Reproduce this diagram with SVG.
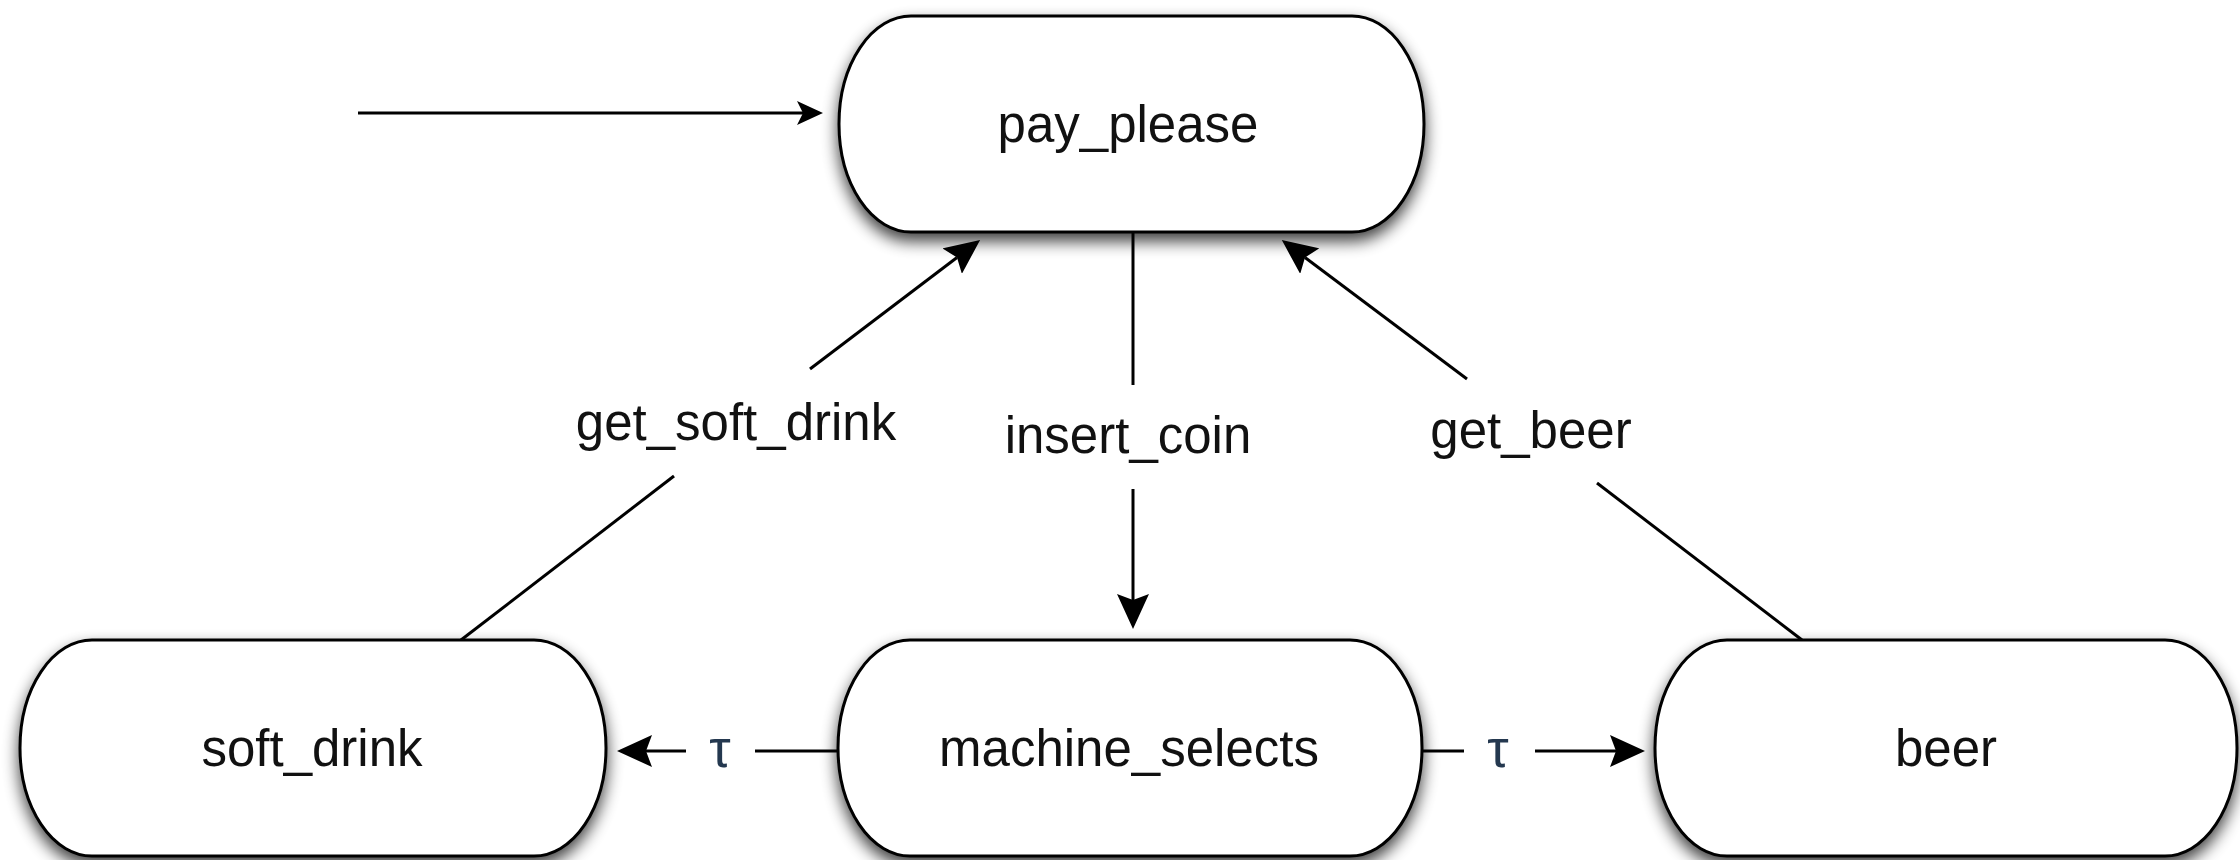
<svg xmlns="http://www.w3.org/2000/svg" width="2240" height="860" viewBox="0 0 2240 860">
  <defs>
    <filter id="shadow" x="-10%" y="-20%" width="120%" height="150%">
      <feGaussianBlur in="SourceAlpha" stdDeviation="8"/>
      <feOffset dx="0" dy="8" result="b"/>
      <feComponentTransfer in="b" result="s">
        <feFuncA type="linear" slope="0.75"/>
      </feComponentTransfer>
      <feMerge>
        <feMergeNode in="s"/>
        <feMergeNode in="SourceGraphic"/>
      </feMerge>
    </filter>
    <marker id="arrow" viewBox="0 -16 35 32" markerWidth="35" markerHeight="32" refX="6" refY="0" orient="auto" markerUnits="userSpaceOnUse">
      <path d="M0,-16 L35,0 L0,16 L6,0 Z" fill="#000"/>
    </marker>
    <marker id="initArrow" viewBox="0 -12 26 24" markerWidth="26" markerHeight="24" refX="6" refY="0" orient="auto" markerUnits="userSpaceOnUse">
      <path d="M0,-12 L26,0 L0,12 L6,0 Z" fill="#000"/>
    </marker>
  </defs>
  <style>
    .state { fill: #fff; stroke: #000; stroke-width: 3; filter: url(#shadow); }
    .label { font-family: "Liberation Sans", Arial, sans-serif; font-size: 51px; fill: #111; text-anchor: middle; }
    .tau { font-family: "Liberation Sans", "DejaVu Sans", sans-serif; font-size: 54px; fill: #24384f; text-anchor: middle; }
    .edge { stroke: #000; stroke-width: 3; fill: none; }
  </style>
  <rect width="2240" height="860" fill="#fff"/>

  <g id="connectors">
    <path class="edge" d="M358,113 L803,113" stroke-width="5" marker-end="url(#initArrow)"/>
    <path class="edge" d="M1133,233 L1133,385"/>
    <path class="edge" d="M1133,489 L1133,600" marker-end="url(#arrow)"/>
    <text class="label" x="1128" y="453">insert_coin</text>
    <path class="edge" d="M461,640 L674,476"/>
    <path class="edge" d="M810,369 L957,257.5" marker-end="url(#arrow)"/>
    <text class="label" x="736" y="440">get_soft_drink</text>
    <path class="edge" d="M1802,640 L1597,483"/>
    <path class="edge" d="M1467,379 L1305,257.5" marker-end="url(#arrow)"/>
    <text class="label" x="1531" y="448">get_beer</text>
    <path class="edge" d="M838,751 L755,751"/>
    <path class="edge" d="M686,751 L646,751" marker-end="url(#arrow)"/>
    <text class="tau" x="720" y="767">τ</text>
    <path class="edge" d="M1422,751 L1464,751"/>
    <path class="edge" d="M1535,751 L1616,751" marker-end="url(#arrow)"/>
    <text class="tau" x="1498" y="767">τ</text>
  </g>

  <g id="pay_please">
    <rect class="state" x="839" y="16" width="585" height="216" rx="72" ry="108"/>
    <text class="label" x="1128" y="142">pay_please</text>
  </g>
  <g id="soft_drink">
    <rect class="state" x="20" y="640" width="586" height="216" rx="72" ry="108"/>
    <text class="label" x="312" y="766">soft_drink</text>
  </g>
  <g id="machine_selects">
    <rect class="state" x="838" y="640" width="584" height="216" rx="72" ry="108"/>
    <text class="label" x="1129" y="766">machine_selects</text>
  </g>
  <g id="beer">
    <rect class="state" x="1655" y="640" width="582" height="216" rx="72" ry="108"/>
    <text class="label" x="1946" y="766">beer</text>
  </g>
</svg>
